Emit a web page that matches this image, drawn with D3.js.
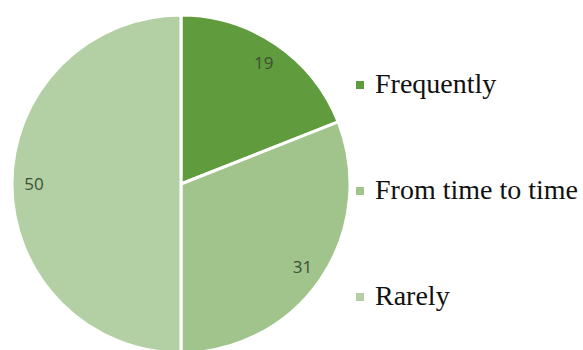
<!DOCTYPE html>
<html>
<head>
<meta charset="utf-8">
<script src="https://cdn.jsdelivr.net/npm/d3@7"></script>
<style>
  body { margin: 0; background: #fff; }
</style>
</head>
<body>
<svg width="583" height="350"></svg>
<script>
var categories = ['Frequently', 'From time to time', 'Rarely'];
var values = [19, 31, 50];
var colors = ['#609b3d', '#a0c48b', '#b3cfa4'];

var width = 583;
var height = 350;
var cx = 181;
var cy = 184;
var radius = 169;

var svg = d3.select('svg');

var pie = d3.pie()
  .sort(null)
  .value(d => d);

var arc = d3.arc()
  .innerRadius(0)
  .outerRadius(radius);

var labelArc = d3.arc()
  .innerRadius(147)
  .outerRadius(147);

var g = svg.append('g')
  .attr('transform', 'translate(' + cx + ',' + cy + ')');

var slices = pie(values);

g.selectAll('path')
  .data(slices)
  .enter()
  .append('path')
  .attr('d', arc)
  .attr('fill', (d, i) => colors[i])
  .attr('stroke', '#fff')
  .attr('stroke-width', 3)
  .attr('stroke-linejoin', 'round');

g.selectAll('text')
  .data(slices)
  .enter()
  .append('text')
  .attr('transform', d => 'translate(' + labelArc.centroid(d) + ')')
  .attr('dy', '0.36em')
  .style('text-anchor', 'middle')
  .style('font-family', '"Open Sans", sans-serif')
  .style('font-size', '17px')
  .style('fill', '#3d4f35')
  .text(d => d.data);

var legendY = d3.scalePoint()
  .domain(categories)
  .range([85, 297]);

var legend = svg.append('g')
  .selectAll('g')
  .data(categories)
  .enter()
  .append('g')
  .attr('transform', d => 'translate(356,' + legendY(d) + ')');

legend.append('rect')
  .attr('x', 0)
  .attr('y', -4)
  .attr('width', 8)
  .attr('height', 8)
  .attr('fill', (d, i) => colors[i]);

legend.append('text')
  .attr('x', 19)
  .attr('y', 8)
  .style('font-family', '"Liberation Serif", "Times New Roman", serif')
  .style('font-size', '28px')
  .style('fill', '#111')
  .text(d => d);
</script>
</body>
</html>
